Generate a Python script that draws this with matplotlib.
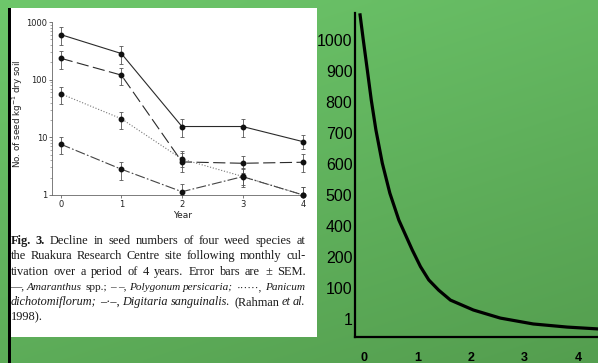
import matplotlib
matplotlib.use("Agg")
import matplotlib.pyplot as plt
import numpy as np
from matplotlib.patches import Rectangle

W, H = 598, 363

# ---- left panel: seed numbers (log scale) ----
years = [0, 1, 2, 3, 4]
amaranthus = [605, 284, 15.4, 15.4, 8.4]
amaranthus_lo = [405, 187, 10.3, 10.0, 6.3]
amaranthus_hi = [815, 380, 21, 21, 11]
polygonum = [235, 120, 3.75, 3.55, 3.7]
polygonum_lo = [154, 81, 2.5, 2.45, 2.5]
polygonum_hi = [310, 160, 5.7, 4.8, 5.1]
panicum = [57, 21, 4.2, 2.1, 1.0]
panicum_lo = [38, 14, 3.0, 1.5, 1.0]
panicum_hi = [76, 28, 5.3, 2.9, 1.36]
digitaria = [7.6, 2.8, 1.14, 2.08, 1.0]
digitaria_lo = [5.1, 1.8, 1.0, 1.4, 1.0]
digitaria_hi = [10.3, 3.7, 1.53, 2.8, 1.36]

caption_lines = [
    [("Fig. 3.", "b"), ("Decline in seed numbers of four weed species at", "n")],
    [("the Ruakura Research Centre site following monthly cul-", "n")],
    [("tivation over a period of 4 years. Error bars are \u00b1 SEM.", "n")],
    [("\u2014,", "n"), ("Amaranthus", "i"), ("spp.; \u2013 \u2013,", "n"),
     ("Polygonum persicaria;", "i"), ("\u00b7\u00b7\u00b7\u00b7\u00b7\u00b7,", "n"), ("Panicum", "i")],
    [("dichotomiflorum;", "i"), ("\u2013\u00b7\u2013,", "n"), ("Digitaria sanguinalis.", "i"),
     ("(Rahman", "n"), ("et al.", "i")],
    [("1998).", "n")],
]

# ---- right panel: schematic decline curve ----
right_ticks = ['1', '100', '200', '400', '500', '600', '700', '800', '900', '1000']
right_xticks = ['0', '1', '2', '3', '4']
curve_x = [-0.07, -0.006, 0.069, 0.143, 0.229, 0.348, 0.489, 0.657, 0.906, 1.06, 1.215,
           1.40, 1.619, 2.047, 2.549, 3.163, 3.795, 4.372]
curve_y = [9.86, 9.0, 8.03, 7.06, 6.10, 5.03, 4.06, 3.19, 2.23, 1.69, 1.26,
           0.93, 0.61, 0.29, 0.03, -0.16, -0.26, -0.32]

fig = plt.figure(figsize=(W / 100, H / 100), dpi=100)

# gradient background
bg = fig.add_axes([0, 0, 1, 1], zorder=-2)
gx, gy = np.meshgrid(np.linspace(0, 1, 120), np.linspace(0, 1, 80))
t = 0.35 * gx + 0.65 * gy
c0 = np.array([0.43, 0.78, 0.42])
c1 = np.array([0.33, 0.62, 0.31])
img = c0[None, None, :] + t[:, :, None] * (c1 - c0)[None, None, :]
bg.imshow(img, aspect='auto', extent=[0, 1, 0, 1], interpolation='bilinear')
bg.set_axis_off()


def fx(px):
    return px / W


def fy(py):
    return 1 - py / H


# white panel and black strip
fig.patches.append(Rectangle((fx(11), fy(336.5)), fx(316.5) - fx(11), fy(8) - fy(336.5),
                             transform=fig.transFigure, facecolor='white',
                             edgecolor='none', zorder=-1))
fig.patches.append(Rectangle((fx(8), 0), fx(11) - fx(8), fy(8),
                             transform=fig.transFigure, facecolor='black',
                             edgecolor='none', zorder=6))

# ---- log plot ----
ax = fig.add_axes([fx(52), fy(195), fx(305) - fx(52), fy(22) - fy(195)], zorder=1)
ax.set_facecolor('none')
series = [
    (amaranthus, amaranthus_lo, amaranthus_hi, '-', None, '#2a2a2a'),
    (polygonum, polygonum_lo, polygonum_hi, '--', (11, 4), '#2a2a2a'),
    (panicum, panicum_lo, panicum_hi, ':', (1, 1.6), '#777777'),
    (digitaria, digitaria_lo, digitaria_hi, '-.', (9, 2, 1.5, 2), '#444444'),
]
for vals, lo, hi, ls, dashes, col in series:
    v = np.array(vals)
    err = [v - np.array(lo), np.array(hi) - v]
    ax.errorbar(years, v, yerr=err, fmt='none', ecolor='#555555', elinewidth=0.6,
                capsize=1.6, capthick=0.6, zorder=2)
    line, = ax.plot(years, v, color=col, lw=0.8, ls=ls, zorder=3, clip_on=False)
    if dashes is not None:
        line.set_dashes(dashes)
    ax.plot(years, v, 'o', color='#111111', ms=3.2, zorder=4, clip_on=False)

ax.set_yscale('log')
ax.set_ylim(1, 1000)
ax.set_xlim(-0.144, 4.03)
ax.set_xticks(years)
ax.set_xticklabels([str(y) for y in years])
ax.set_yticks([1, 10, 100, 1000])
ax.set_yticklabels(['1', '10', '100', '1000'])
for s in ['top', 'right']:
    ax.spines[s].set_visible(False)
for s in ['left', 'bottom']:
    ax.spines[s].set_color('#666666')
    ax.spines[s].set_linewidth(0.6)
ax.tick_params(labelsize=6, colors='#444444', labelcolor='#222222', width=0.5,
               length=2, pad=1.5)
ax.tick_params(which='minor', length=1.2, width=0.4, colors='#666666')
ax.set_xlabel('Year', fontsize=6.5, color='#222222')
ax.xaxis.set_label_coords(0.518, -0.09)
ax.set_ylabel('No. of seed kg$^{-1}$ dry soil', fontsize=6.3, color='#222222')
ax.yaxis.set_label_coords(-0.105, 0.47)

# ---- caption (justified) ----
fig.canvas.draw()
rend = fig.canvas.get_renderer()
left, right = 10.5, 305.5
baselines = [244, 259.3, 274.6, 290, 305, 320]
cap_fs = 8.9
min_gap = 2.4
for i, line in enumerate(caption_lines):
    words = []
    for seg, st in line:
        for w in seg.split():
            words.append((w, st))
    arts = []
    for w, st in words:
        a = fig.text(0, 0, w, fontsize=cap_fs, family='Liberation Serif',
                     fontweight='bold' if st == 'b' else 'normal',
                     fontstyle='italic' if st == 'i' else 'normal',
                     color='#1a1a1a', va='baseline', ha='left', zorder=3)
        arts.append(a)
    widths = [a.get_window_extent(rend).width for a in arts]
    last = i == len(caption_lines) - 1
    if not last:
        need = sum(widths) + min_gap * (len(arts) - 1)
        if need > right - left:
            k = (right - left - min_gap * (len(arts) - 1)) / sum(widths)
            for a in arts:
                a.set_fontsize(cap_fs * k)
            widths = [wd * k for wd in widths]
    if last or len(arts) == 1:
        gap = 2.6
    else:
        gap = (right - left - sum(widths)) / (len(arts) - 1)
    x = left
    for a, wd in zip(arts, widths):
        a.set_position((fx(x), fy(baselines[i])))
        x += wd + gap

# ---- right schematic curve ----
ax2 = fig.add_axes([fx(354.5), fy(337), 1 - fx(354.5), fy(13) - fy(337)], zorder=1)
ax2.set_facecolor('none')
ax2.plot(curve_x, curve_y, color='black', lw=2.3, solid_joinstyle='round',
         solid_capstyle='butt')
ax2.set_xlim(-0.17, 4.37)
ax2.set_ylim(-0.58, 9.87)
ax2.set_yticks(range(len(right_ticks)))
ax2.set_yticklabels(right_ticks, fontsize=11.5, family='Liberation Sans')
ax2.set_xticks(range(len(right_xticks)))
ax2.set_xticklabels(right_xticks, fontsize=9, fontweight='bold', family='Liberation Sans')
ax2.tick_params(length=0, pad=1.5, axis='y')
ax2.tick_params(length=0, pad=11, axis='x')
for s in ['top', 'right']:
    ax2.spines[s].set_visible(False)
for s in ['left', 'bottom']:
    ax2.spines[s].set_color('black')
    ax2.spines[s].set_linewidth(1.6)

fig.savefig('out.png', dpi=100)
